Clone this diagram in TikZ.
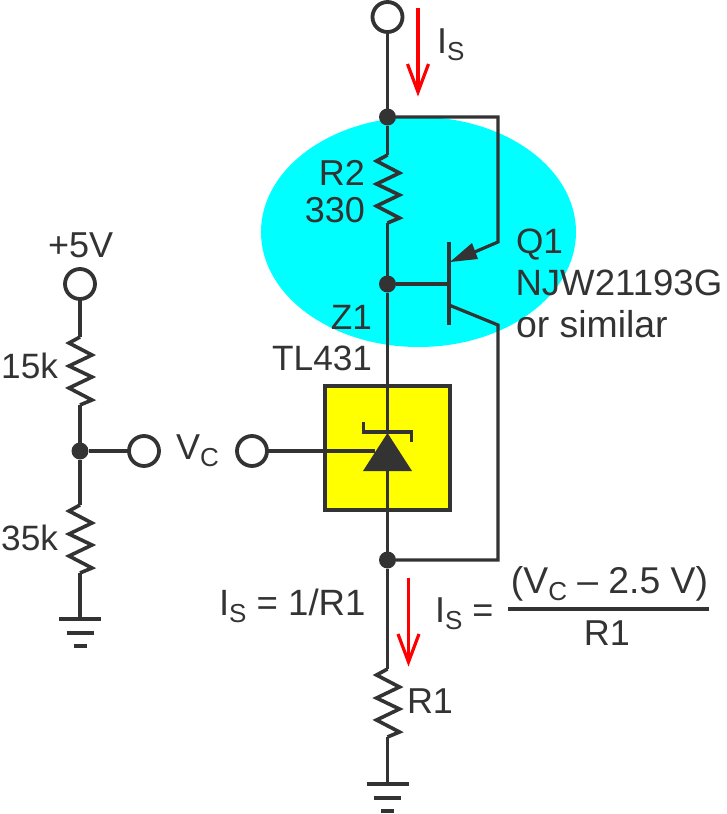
\documentclass[tikz,border=0pt]{standalone}
\usepackage{fontspec}
\setmainfont{Liberation Sans}
\usetikzlibrary{shapes.geometric}
\definecolor{ink}{HTML}{333333}
\definecolor{aqua}{HTML}{00FFFF}
\definecolor{yel}{HTML}{FFFF00}
\newcommand{\subS}[1]{\raisebox{-7.5pt}{\fontsize{26}{26}\selectfont #1}}
\tikzset{
  x=1pt,y=-1pt,
  wire/.style={draw=ink,line width=3.6pt,line join=miter},
  thin wire/.style={draw=ink,line width=3.2pt},
  terminal/.style={circle,draw=ink,fill=white,line width=3.8pt,minimum size=30pt,inner sep=0pt,outer sep=0pt},
  junction/.style={circle,fill=ink,minimum size=17pt,inner sep=0pt,outer sep=0pt},
  lab/.style={text=ink,font=\fontsize{36}{38}\selectfont,inner sep=0pt,outer sep=0pt},
  labs/.style={lab,font=\fontsize{35.2}{38}\selectfont},
  labl/.style={lab,font=\fontsize{37.4}{38}\selectfont},
  red arrow/.style={draw=red,line width=3.2pt,line join=miter},
  pics/zig/.style={code={
    \draw[wire] (0,0) -- (-11,6) -- (12,18) -- (-11,29) -- (12,40) -- (-11,51) -- (12,63) -- (0,68);
    \coordinate (-in) at (0,0);
    \coordinate (-out) at (0,68);
  }},
  pics/gnd/.style={code={
    \coordinate (-top) at (0,0);
    \draw[wire] (-21,0) -- (21,0);
    \draw[wire] (-13.5,14) -- (13.5,14);
    \draw[wire] (-6.5,27) -- (6.5,27);
  }},
  pics/redarr/.style={code={
    \draw[red arrow] (0,0) -- (0,82);
    \draw[red arrow] (-10.5,56) -- (0,84) -- (10.5,56);
  }}
}
\begin{document}
\begin{tikzpicture}
\useasboundingbox (0,0) rectangle (726,814);
% highlight
\node[ellipse,fill=aqua,minimum width=315pt,minimum height=230pt,inner sep=0pt] (halo) at (418.5,232) {};
\node[draw=ink,fill=yel,line width=4pt,minimum width=125pt,minimum height=124pt,inner sep=0pt] (zbox) at (387.5,448) {};

% nodes
\node[terminal] (top) at (387.5,17) {};
\node[junction] (ja) at (387.5,117) {};
\node[junction] (jb) at (387.5,284) {};
\node[junction] (jc) at (387.5,560) {};
\coordinate (eright) at (498,117);
\coordinate (ebend) at (498,242);
\coordinate (ewire) at (470,254);
\coordinate (cbend) at (498,325);
\coordinate (cright) at (498,560);
\coordinate (barT) at (449,242);
\coordinate (barB) at (449,325);
\coordinate (barM) at (449,284);
\coordinate (barC) at (449,305);
\coordinate (triL) at (363,471);
\coordinate (triR) at (412,471);
\coordinate (triT) at (387.5,433);
\coordinate (triG) at (375,451);
\coordinate (triK) at (387.5,471);
\path (387.5,155) pic (rtwo) {zig};
\path (387.5,669) pic (rone) {zig};
\path (387.5,784) pic (gndb) {gnd};

% main wires
\draw[wire] (top) -- (ja);
\draw[wire] (ja) -- (rtwo-in);
\draw[wire] (rtwo-out) -- (jb);
\draw[wire] (jb) -- (triT);
\draw[wire] (triK) -- (jc);
\draw[wire] (jc) -- (rone-in);
\draw[wire] (rone-out) -- (gndb-top);
\draw[thin wire] (ja) -- (eright) -- (ebend) -- (ewire);
\draw[thin wire] (jb) -- (barM);
\draw[wire] (barT) -- (barB);
\draw[thin wire] (barC) -- (cbend) -- (cright) -- (jc);
\fill[ink] (450,262) -- (472,243) -- (478,259) -- cycle;

% Zener
\draw[thin wire] (363.5,422) -- (363.5,432) -- (411.5,432) -- (411.5,442);
\fill[ink] (triT) -- (triL) -- (triR) -- cycle;
\node[terminal] (vcin) at (252,451) {};
\draw[thin wire] (vcin) -- (triG);

% divider
\node[terminal] (five) at (80,284) {};
\node[junction] (jd) at (80,451) {};
\node[terminal] (vcout) at (144,451) {};
\path (80,337) pic (rk) {zig};
\path (80,505) pic (rl) {zig};
\path (80,619) pic (gnda) {gnd};
\draw[wire] (five) -- (rk-in);
\draw[wire] (rk-out) -- (jd);
\draw[wire] (jd) -- (rl-in);
\draw[wire] (rl-out) -- (gnda-top);
\draw[thin wire] (jd) -- (vcout);

% current arrows
\path (418,8) pic {redarr};
\path (408.5,578) pic {redarr};

% labels
\node[lab,anchor=base west] (lis) at (437,53) {I\subS{S}};
\node[lab,anchor=base east] (lr2) at (365,185) {R2};
\node[lab,anchor=base east] (l330) at (365,222) {330};
\node[labs,anchor=base west] (lq1) at (516,253) {Q1};
\node[labl,anchor=base west,font=\fontsize{36.6}{38}\selectfont] (lnjw) at (515.5,295) {NJW21193G};
\node[labl,anchor=base west] (lsim) at (516,337) {or similar};
\node[labs,anchor=base east] (lz1) at (372,329) {Z1};
\node[labs,anchor=base east] (ltl) at (372,370) {TL431};
\node[lab,anchor=base west] (lvc) at (176,459) {V\subS{C}};
\node[lab,anchor=base west] (l5v) at (48,257) {+5V};
\node[labs,anchor=base east] (l15) at (58,378) {15k};
\node[labs,anchor=base east] (l35) at (58,550) {35k};
\node[lab,anchor=base west] (lr1) at (407,713) {R1};
\node[labl,anchor=base west,font=\fontsize{36.6}{38}\selectfont] (lis1) at (219,615) {I\subS{S} = 1/R1};
\node[lab,anchor=base west] (lis2) at (435,622) {I\subS{S} =};
\node[labl,anchor=base,font=\fontsize{37.3}{38}\selectfont] (lnum) at (609.5,593) {(V\subS{C} – 2.5 V)};
\node[lab,anchor=base] (lden) at (607,645) {R1};
\coordinate (fracL) at (508,609);
\coordinate (fracR) at (709,609);
\draw[wire] (fracL) -- (fracR);
\end{tikzpicture}
\end{document}
